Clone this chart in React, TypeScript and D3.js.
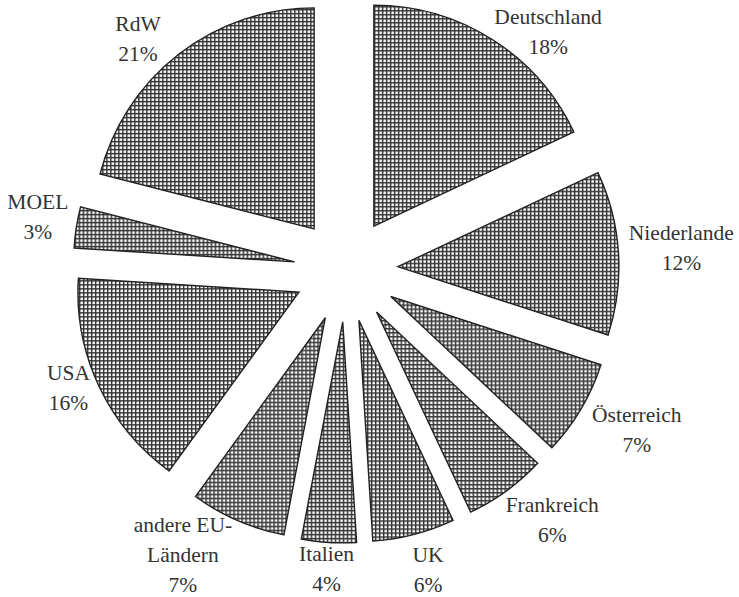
import React from "react";
import * as d3 from "d3";

// ---- data ----
const countries = [
  "Deutschland",
  "Niederlande",
  "Österreich",
  "Frankreich",
  "UK",
  "Italien",
  "andere EU-Ländern",
  "USA",
  "MOEL",
  "RdW",
];
const labelLines = [
  ["Deutschland"],
  ["Niederlande"],
  ["Österreich"],
  ["Frankreich"],
  ["UK"],
  ["Italien"],
  ["andere EU-", "Ländern"],
  ["USA"],
  ["MOEL"],
  ["RdW"],
];
const shares = [18, 12, 7, 6, 6, 4, 7, 16, 3, 21];

// ---- layout ----
const W = 739;
const H = 597;
const CX = 346;
const CY = 270;
const RADIUS = 221;
const EXPLODE = 52;
const LABEL_R = 310;
const LINE_H = 30;
const FONT_SIZE = 21.5;
// fine label nudges (dx, dy) relative to the polar label position
const labelNudge: [number, number][] = [
  [36, 24],
  [26, -3],
  [24, 2],
  [24, -1],
  [5, 0],
  [0, -10],
  [-40, 0],
  [3, -14],
  [-2, -5],
  [-18, 14],
];

export default function App() {
  const pie = d3
    .pie<number>()
    .sort(null)
    .value((d) => d)
    .startAngle(0)
    .endAngle(2 * Math.PI);
  const arcs = pie(shares);
  const arcGen = d3.arc<d3.PieArcDatum<number>>().innerRadius(0).outerRadius(RADIUS);

  return (
    <svg
      width={W}
      height={H}
      style={{ position: "absolute", left: 0, top: 0, background: "#fff" }}
    >
      <defs>
        <pattern id="grid" patternUnits="userSpaceOnUse" width={4} height={4}>
          <rect x={0} y={0} width={4} height={4} fill="#ffffff" />
          <rect x={0} y={0} width={4} height={1.45} fill="#333" />
          <rect x={0} y={0} width={1.45} height={4} fill="#333" />
        </pattern>
      </defs>
      <rect x={0} y={0} width={W} height={H} fill="#fff" />
      <g transform={`translate(${CX},${CY})`}>
        {arcs.map((a, i) => {
          const mid = (a.startAngle + a.endAngle) / 2;
          const dx = Math.sin(mid) * EXPLODE;
          const dy = -Math.cos(mid) * EXPLODE;
          return (
            <path
              key={countries[i]}
              d={arcGen(a) || ""}
              transform={`translate(${dx},${dy})`}
              fill="url(#grid)"
              stroke="#222"
              strokeWidth={1.4}
              strokeLinejoin="miter"
            />
          );
        })}
        {arcs.map((a, i) => {
          const mid = (a.startAngle + a.endAngle) / 2;
          const lx = Math.sin(mid) * LABEL_R + labelNudge[i][0];
          const ly = -Math.cos(mid) * LABEL_R + labelNudge[i][1];
          const lines = [...labelLines[i], `${shares[i]}%`];
          const n = lines.length;
          const firstBaseline = ly + 7 - ((n - 1) * LINE_H) / 2;
          return (
            <text
              key={"l" + countries[i]}
              x={lx}
              y={firstBaseline}
              textAnchor="middle"
              fontFamily="'Liberation Serif', 'Times New Roman', serif"
              fontSize={FONT_SIZE}
              fill="#333"
            >
              {lines.map((t, j) => (
                <tspan key={j} x={lx} y={firstBaseline + j * LINE_H}>
                  {t}
                </tspan>
              ))}
            </text>
          );
        })}
      </g>
    </svg>
  );
}
